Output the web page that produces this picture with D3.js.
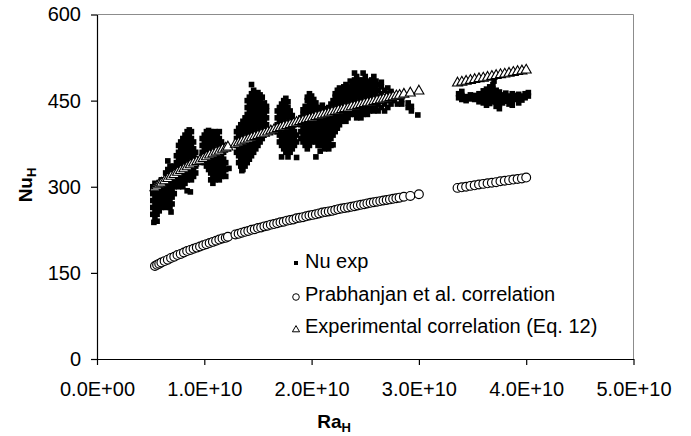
<!DOCTYPE html>
<html>
<head>
<meta charset="utf-8">
<script src="https://cdn.jsdelivr.net/npm/d3@7"></script>
<style>
  body { margin: 0; background: #fff; }
  svg { display: block; font-family: "Liberation Sans", Arial, sans-serif; }
</style>
</head>
<body>
<div class="plot"></div>
<script>
// Ra values are kept in units of 1e9
const xTicks = [0, 10, 20, 30, 40, 50];
const xTickLabels = ["0.0E+00", "1.0E+10", "2.0E+10", "3.0E+10", "4.0E+10", "5.0E+10"];
const yTicks = [0, 150, 300, 450, 600];

// Nu exp, one entry per Ra column: [Ra, [Nu, Nu, ...]]
const nuExpCols = [
    // ~0.55e10
    [5.2, [252, 264, 276, 288, 300]],
    [5.3, [238]],
    [5.4, [246, 258, 270, 282, 294, 306]],
    [5.6, [240, 252, 264, 276, 288, 300]],
    [5.8, [258, 270, 282, 294, 306]],
    [6.0, [264, 276, 288, 300, 312]],
    [6.2, [270, 282, 294]],
    // ~0.7e10
    [6.4, [264, 276, 288, 300, 312, 324]],
    [6.6, [270, 282, 294, 306, 318, 330, 345]],
    [6.8, [264, 276, 288, 300, 312, 324, 336]],
    [6.9, [256]],
    [7.0, [270, 282, 294, 306, 318, 330]],
    [7.2, [288, 300, 312, 324, 336]],
    // ~0.85e10
    [7.4, [306, 318, 330, 342, 354]],
    [7.6, [300, 312, 324, 336, 348, 360, 372]],
    [7.8, [306, 318, 330, 342, 354, 366, 378]],
    [8.0, [300, 312, 324, 336, 348, 360, 372, 384]],
    [8.2, [306, 318, 330, 342, 354, 366, 378, 390]],
    [8.4, [293, 312, 324, 336, 348, 360, 372, 384, 396]],
    [8.6, [318, 330, 342, 354, 366, 378, 390, 399]],
    [8.7, [291]],
    [8.8, [312, 324, 336, 348, 360, 372, 384, 396]],
    [9.0, [318, 330, 342, 354, 366, 378]],
    [9.2, [324, 336, 348, 360]],
    // ~1.1e10
    [9.8, [348, 360, 372, 384]],
    [10.0, [342, 354, 366, 378, 390]],
    [10.2, [336, 348, 360, 372, 384, 396]],
    [10.4, [330, 342, 354, 366, 378, 390, 398]],
    [10.6, [312, 324, 336, 348, 360, 372, 384, 396]],
    [10.8, [306, 318, 330, 342, 354, 366, 378, 390]],
    [11.0, [312, 324, 336, 348, 360, 372, 384, 396]],
    [11.2, [318, 330, 342, 354, 366, 378, 390]],
    [11.4, [312, 324, 336, 348, 360, 372, 384, 396]],
    [11.6, [318, 330, 342, 354, 366, 378]],
    [11.8, [324, 336, 348, 360, 372]],
    [12.0, [318, 330, 342]],
    [12.3, [332]],
    // ~1.45e10
    [13.0, [360, 372, 384, 396]],
    [13.2, [342, 354, 366, 378, 390, 402]],
    [13.4, [336, 348, 360, 372, 384, 396, 408]],
    [13.5, [328]],
    [13.6, [330, 342, 354, 366, 378, 390, 402, 414]],
    [13.8, [336, 348, 360, 372, 384, 396, 408, 420]],
    [14.0, [342, 354, 366, 378, 390, 402, 414, 426, 438, 450]],
    [14.2, [348, 360, 372, 384, 396, 408, 420, 432, 444, 456]],
    [14.4, [354, 366, 378, 390, 402, 414, 426, 438, 450, 462, 478]],
    [14.6, [360, 372, 384, 396, 408, 420, 432, 444, 456, 468]],
    [14.8, [366, 378, 390, 402, 414, 426, 438, 450, 462]],
    [15.0, [372, 384, 396, 408, 420, 432, 444, 456, 464]],
    [15.2, [378, 390, 402, 414, 426, 438, 450, 460]],
    [15.4, [384, 396, 408, 420, 432, 444, 456]],
    [15.6, [402, 414, 426, 438, 446]],
    [15.8, [408, 420, 432, 440]],
    // ~1.75e10
    [16.8, [396, 408, 420, 432]],
    [17.0, [378, 390, 402, 414, 426, 438]],
    [17.2, [352, 372, 384, 396, 408, 420, 432, 444]],
    [17.4, [366, 378, 390, 402, 414, 426, 438, 450]],
    [17.6, [360, 372, 384, 396, 408, 420, 432, 444, 454]],
    [17.8, [352, 366, 378, 390, 402, 414, 426, 438, 448]],
    [18.0, [360, 372, 384, 396, 408, 420, 432]],
    [18.2, [366, 378, 390, 402, 414, 424]],
    [18.4, [372, 384, 396, 408]],
    [18.6, [351, 378, 390]],
    // ~2.15e10
    [19.0, [384, 396, 408, 420]],
    [19.2, [378, 390, 402, 414, 426, 434]],
    [19.4, [372, 384, 396, 408, 420, 432, 440]],
    [19.6, [366, 378, 390, 402, 414, 426, 438, 450, 456]],
    [19.8, [372, 384, 396, 408, 420, 432, 444, 456, 462]],
    [20.0, [378, 390, 402, 414, 426, 438, 450, 458]],
    [20.2, [384, 396, 408, 420, 432, 444, 452]],
    [20.4, [352, 378, 390, 402, 414, 426, 438, 446]],
    [20.6, [372, 384, 396, 408, 420, 432]],
    [20.8, [362, 378, 390, 402, 414, 426, 438]],
    [21.0, [372, 384, 396, 408, 420, 432, 442]],
    [21.2, [366, 378, 390, 402, 414, 426, 436]],
    [21.4, [372, 384, 396, 408, 420, 432]],
    [21.6, [366, 378, 390, 402, 414, 426, 438]],
    [21.8, [372, 384, 396, 408, 420, 432, 444]],
    [22.0, [373, 390, 402, 414, 426, 438, 450]],
    [22.2, [396, 408, 420, 432, 444, 456, 462]],
    [22.4, [402, 414, 426, 438, 450, 462, 468]],
    [22.6, [408, 420, 432, 444, 456, 468, 472]],
    [22.8, [414, 426, 438, 450, 462, 468]],
    [23.0, [420, 432, 444, 456, 468, 474]],
    [23.2, [414, 426, 438, 450, 462, 474, 478]],
    [23.4, [420, 432, 444, 456, 468]],
    [23.6, [426, 438, 450, 462, 474, 484]],
    [23.8, [432, 444, 456, 468, 478]],
    // ~2.7e10
    [24.0, [426, 438, 450, 462, 474, 486, 498]],
    [24.2, [420, 432, 444, 456, 468, 480, 492]],
    [24.4, [426, 438, 450, 462, 474, 486]],
    [24.6, [420, 432, 444, 456, 468, 480]],
    [24.8, [426, 438, 450, 462, 474, 486, 498]],
    [25.0, [432, 444, 456, 468, 480, 492]],
    [25.2, [426, 438, 450, 462, 474, 484]],
    [25.4, [432, 444, 456, 468, 480]],
    [25.6, [438, 450, 462, 474, 486]],
    [25.8, [432, 444, 456, 468, 480, 492]],
    [26.0, [438, 450, 462, 474, 484]],
    [26.2, [432, 444, 456, 468, 478]],
    [26.5, [438, 450, 462, 474, 482]],
    [26.8, [432, 444, 456, 468]],
    [27.1, [438, 450, 462, 472]],
    [27.4, [444, 456, 466]],
    [27.7, [450, 460]],
    [28.0, [444, 456]],
    [28.4, [444, 452]],
    [29.0, [438, 446]],
    [29.3, [432, 440]],
    [29.9, [425]],
    // ~3.7e10
    [33.7, [455, 462]],
    [34.0, [452, 459, 466]],
    [34.4, [450, 457]],
    [34.8, [453, 460]],
    [35.2, [452, 459]],
    [35.6, [448, 455, 462]],
    [36.0, [446, 453, 460, 467]],
    [36.3, [442, 449, 456, 463, 470]],
    [36.6, [445, 452, 459, 466, 474]],
    [36.9, [448, 455, 462, 470, 478]],
    [37.0, [484]],
    [37.2, [440, 447, 454, 461, 468]],
    [37.5, [436, 444, 451, 458, 465]],
    [37.8, [446, 453, 460]],
    [38.1, [449, 456, 463]],
    [38.4, [444, 451, 458]],
    [38.7, [442, 448, 455, 462]],
    [39.0, [452, 459]],
    [39.3, [446, 454, 461]],
    [39.6, [451, 458]],
    [39.9, [455, 462]],
    [40.2, [458, 464]]
];

// correlations share the Ra points
const raCorr = [
    5.4, 5.6, 5.8, 6.0, 6.3, 6.6, 6.9, 7.2, 7.5, 7.8,
    8.1, 8.4, 8.7, 9.0, 9.3, 9.6, 9.9, 10.2, 10.5, 10.8,
    11.1, 11.4, 11.7, 12.0, 12.2,
    12.9, 13.2, 13.5, 13.8, 14.1, 14.4, 14.7, 15.0, 15.3, 15.6,
    15.9, 16.2, 16.5, 16.8, 17.1, 17.4, 17.7, 18.0, 18.3, 18.6,
    18.9, 19.2, 19.5, 19.8, 20.1, 20.4, 20.7, 21.0, 21.3, 21.6,
    21.9, 22.2, 22.5, 22.8, 23.1, 23.4, 23.7, 24.0, 24.3, 24.6,
    24.9, 25.2, 25.5, 25.8, 26.1, 26.4, 26.7, 27.0, 27.3, 27.6,
    27.9, 28.2, 28.6, 29.2, 30.0,
    33.6, 34.0, 34.4, 34.8, 35.2, 35.6, 36.0, 36.4, 36.8, 37.2,
    37.6, 38.0, 38.4, 38.8, 39.2, 39.6, 40.0
];
const nuPrab = [
    162, 164, 166, 168, 170.5, 173, 176, 178, 181, 183,
    185.5, 188, 190, 192, 194, 196, 198, 200, 202, 204,
    206, 208, 210, 211, 213,
    217, 218, 220, 221.5, 223, 225, 226, 228, 229, 231,
    232, 234, 235, 236.5, 238, 239, 241, 242, 243, 245,
    246, 247, 248.5, 250, 251, 252, 253.5, 255, 256, 257,
    258, 259.5, 261, 262, 263, 264, 265, 266, 267.5, 268.5,
    269.5, 271, 272, 273, 274, 275, 276, 277, 278, 279,
    280, 281, 282.5, 284, 287,
    298, 299, 300, 301.5, 302.5, 304, 305, 306, 307, 308,
    309.5, 310.5, 311.5, 312.5, 313.5, 314.5, 316
];
const nuCorr = [
    300, 303, 306, 308, 312, 316, 320, 323, 327, 330,
    333, 336.5, 340, 343, 345.5, 348, 351, 354, 357, 359,
    362, 364, 367, 369, 371,
    376, 378.5, 381, 383, 385, 387, 389, 391, 393, 395,
    397, 399, 401, 403, 405, 407, 408.5, 410, 412, 414,
    415.5, 417, 419, 420.5, 422, 424, 425.5, 427, 428.5, 430,
    432, 433, 435, 436, 438, 439, 441, 442, 443.5, 445,
    446.5, 448, 449, 450.5, 452, 453, 454.5, 456, 457, 458.5,
    460, 461, 463, 465, 468.5,
    482.5, 484, 485.5, 487, 488.5, 490, 491, 492.5, 494, 495.5,
    497, 498, 499.5, 501, 502.5, 503.5, 505
];

const legendLabels = ["Nu exp", "Prabhanjan et al. correlation", "Experimental correlation (Eq. 12)"];

function nusseltChart(rootDOM){

    const width = 691, height = 436;
    const plot = {left: 97, right: 633.5, top: 14.5, bottom: 359};

    const xScale = d3.scaleLinear().domain([0, 50]).range([plot.left, plot.right]);
    const yScale = d3.scaleLinear().domain([0, 600]).range([plot.bottom, plot.top]);

    const svg = d3.select(rootDOM)
        .append('svg')
        .attr('width', width)
        .attr('height', height);

    svg.append('rect')
        .attr('width', width)
        .attr('height', height)
        .attr('fill', '#fff');

    // plot area frame (top and right)
    svg.append('path')
        .attr('d', `M${plot.left},${plot.top}H${plot.right}V${plot.bottom}`)
        .attr('fill', 'none')
        .attr('stroke', '#8c8c8c')
        .attr('stroke-width', 1);

    // axes
    const xAxis = svg.append('g')
        .attr('transform', 'translate(0,' + plot.bottom + ')')
        .call(d3.axisBottom(xScale)
            .tickValues(xTicks)
            .tickFormat((d, i) => xTickLabels[i])
            .tickSize(6)
            .tickSizeOuter(0)
            .tickPadding(17));

    const yAxis = svg.append('g')
        .attr('transform', 'translate(' + plot.left + ',0)')
        .call(d3.axisLeft(yScale)
            .tickValues(yTicks)
            .tickSize(6)
            .tickSizeOuter(0)
            .tickPadding(10));

    svg.selectAll('.domain, .tick line')
        .attr('stroke', '#000')
        .attr('stroke-width', 1.2);
    svg.selectAll('.tick text')
        .attr('fill', '#000')
        .style('font-size', '20px')
        .style('font-family', '"Liberation Sans", Arial, sans-serif');

    // axis titles
    const xTitle = svg.append('text')
        .attr('x', 334)
        .attr('y', 428)
        .attr('text-anchor', 'middle')
        .style('font-size', '19px')
        .style('font-weight', 'bold');
    xTitle.append('tspan').text('Ra');
    xTitle.append('tspan').attr('dy', 4).style('font-size', '13px').text('H');

    const yTitle = svg.append('text')
        .attr('transform', 'translate(32,185) rotate(-90)')
        .attr('text-anchor', 'middle')
        .style('font-size', '19px')
        .style('font-weight', 'bold');
    yTitle.append('tspan').text('Nu');
    yTitle.append('tspan').attr('dy', 4).style('font-size', '13px').text('H');

    // data
    const expPoints = nuExpCols.flatMap(c => c[1].map(nu => ({ra: c[0], nu: nu})));
    const corrPoints = raCorr.map((ra, i) => ({ra: ra, prab: nuPrab[i], corr: nuCorr[i]}));

    const sq = 5.6;
    svg.append('g').selectAll('rect')
        .data(expPoints)
        .enter()
        .append('rect')
        .attr('x', d => xScale(d.ra) - sq / 2)
        .attr('y', d => yScale(d.nu) - sq / 2)
        .attr('width', sq)
        .attr('height', sq)
        .attr('fill', '#000');

    svg.append('g').selectAll('circle')
        .data(corrPoints)
        .enter()
        .append('circle')
        .attr('cx', d => xScale(d.ra))
        .attr('cy', d => yScale(d.prab))
        .attr('r', 4.4)
        .attr('fill', '#fff')
        .attr('stroke', '#000')
        .attr('stroke-width', 1.15);

    const tri = 'M0,-4.8L5,4H-5Z';
    svg.append('g').selectAll('path')
        .data(corrPoints)
        .enter()
        .append('path')
        .attr('d', tri)
        .attr('transform', d => `translate(${xScale(d.ra)},${yScale(d.corr)})`)
        .attr('fill', '#fff')
        .attr('stroke', '#000')
        .attr('stroke-width', 1.1);

    // legend
    const legend = svg.append('g').attr('transform', 'translate(296,0)');
    const rowY = [263, 297, 329];
    const baseY = [268, 301, 333];

    legend.append('rect')
        .attr('x', -2).attr('y', rowY[0] - 2)
        .attr('width', 4).attr('height', 4)
        .attr('fill', '#000');
    legend.append('circle')
        .attr('cx', 0).attr('cy', rowY[1])
        .attr('r', 3.3)
        .attr('fill', '#fff').attr('stroke', '#000');
    legend.append('path')
        .attr('d', 'M0,-3.4L3.6,2.8H-3.6Z')
        .attr('transform', `translate(0,${rowY[2]})`)
        .attr('fill', '#fff').attr('stroke', '#000');

    legend.selectAll('.lbl')
        .data(legendLabels)
        .enter()
        .append('text')
        .attr('class', 'lbl')
        .attr('x', 9)
        .attr('y', (d, i) => baseY[i])
        .style('font-size', '20px')
        .text(d => d);
}

nusseltChart('.plot');
</script>
</body>
</html>
